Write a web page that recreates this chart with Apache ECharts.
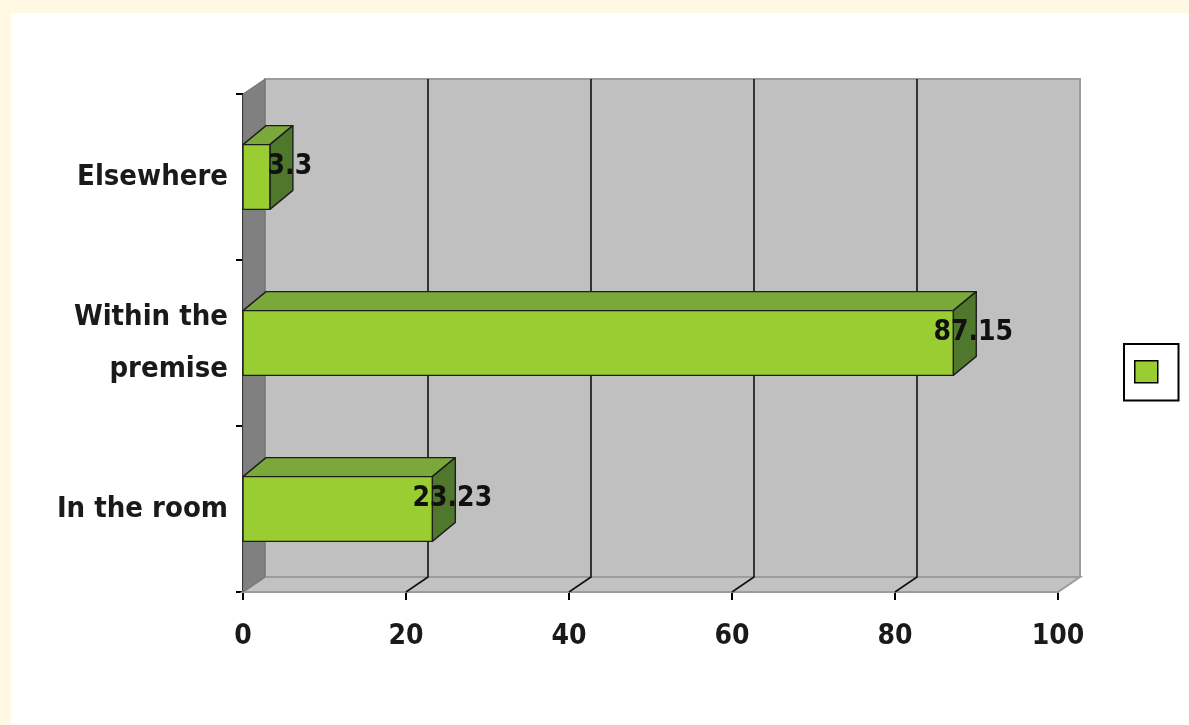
<!DOCTYPE html>
<html>
<head>
<meta charset="utf-8">
<script src="https://cdn.jsdelivr.net/npm/echarts@6/dist/echarts.min.js"></script>
<style>
  html, body { margin: 0; padding: 0; background: #FFF9E3; }
  #chart { width: 1189px; height: 725px; }
</style>
</head>
<body>
<div id="chart"></div>
<script>
// Location categories (bottom to top) and their percentages
const categories = ['In the room', 'Within the premise', 'Elsewhere'];
const values = [23.23, 87.15, 3.3];
const xTicks = [0, 20, 40, 60, 80, 100];

const FONT = "'Liberation Sans Narrow', 'Arial Narrow', 'DejaVu Sans Condensed', 'Liberation Sans', sans-serif";

// Oblique depth offsets for the walls and for the bar boxes
const WALL_DX = 22, WALL_DY = -15;
const BAR_DX = 23, BAR_DY = -19;

function renderWalls(params, api) {
  const cs = params.coordSys;
  const x0 = cs.x, x1 = cs.x + cs.width, yT = cs.y, yB = cs.y + cs.height;
  const children = [];
  // back wall
  children.push({
    type: 'rect',
    shape: { x: x0 + WALL_DX, y: yT + WALL_DY, width: cs.width, height: cs.height },
    style: { fill: '#C0C0C0', stroke: '#9C9C9C', lineWidth: 2 }
  });
  // floor
  children.push({
    type: 'polygon',
    shape: { points: [[x0, yB], [x1, yB], [x1 + WALL_DX, yB + WALL_DY], [x0 + WALL_DX, yB + WALL_DY]] },
    style: { fill: '#C2C2C2', stroke: '#9C9C9C', lineWidth: 2 }
  });
  // left wall
  children.push({
    type: 'polygon',
    shape: { points: [[x0, yT], [x0 + WALL_DX, yT + WALL_DY], [x0 + WALL_DX, yB + WALL_DY], [x0, yB]] },
    style: { fill: '#808080', stroke: '#707070', lineWidth: 1 }
  });
  // grid lines on floor and back wall
  xTicks.forEach(function (v, i) {
    if (i === 0 || i === xTicks.length - 1) return;
    const px = api.coord([v, 0])[0];
    children.push({
      type: 'polyline',
      shape: { points: [[px, yB], [px + WALL_DX, yB + WALL_DY], [px + WALL_DX, yT + WALL_DY]] },
      style: { stroke: '#111', lineWidth: 1.6, fill: null }
    });
  });
  return { type: 'group', children: children };
}

function renderBar(params, api) {
  const v = api.value(0), ci = api.value(1);
  const start = api.coord([0, ci]);
  const xs = start[0], yc = start[1];
  const xe = api.coord([v, ci])[0];
  const h = api.size([0, 1])[1] * 0.39;
  const yt = yc - h / 2, yb = yc + h / 2;
  const edge = { stroke: '#1E1E1E', lineWidth: 1.4, lineJoin: 'round' };
  return {
    type: 'group',
    children: [
      { type: 'polygon',
        shape: { points: [[xs, yt], [xe, yt], [xe + BAR_DX, yt + BAR_DY], [xs + BAR_DX, yt + BAR_DY]] },
        style: Object.assign({ fill: '#7BA83A' }, edge) },
      { type: 'polygon',
        shape: { points: [[xe, yt], [xe + BAR_DX, yt + BAR_DY], [xe + BAR_DX, yb + BAR_DY], [xe, yb]] },
        style: Object.assign({ fill: '#50782C' }, edge) },
      { type: 'rect',
        shape: { x: xs, y: yt, width: xe - xs, height: h },
        style: Object.assign({ fill: '#9ACD32' }, edge) },
      { type: 'text',
        x: xe + 20, y: yc - 10.5,
        style: {
          text: String(v), fill: '#111',
          fontSize: 28, fontWeight: 'bold', fontFamily: FONT,
          align: 'center', verticalAlign: 'middle'
        } }
    ]
  };
}

const chart = echarts.init(document.getElementById('chart'), null, { renderer: 'canvas' });

chart.setOption({
  backgroundColor: '#FFF9E3',
  animation: false,
  graphic: [{
    type: 'rect', z: -10,
    shape: { x: 11, y: 13, width: 1178, height: 712 },
    style: { fill: '#FFFFFF' }
  }],
  grid: { left: 243, right: 131, top: 94, bottom: 133 },
  legend: {
    left: 1124, top: 344,
    data: ['share'],
    formatter: function () { return ''; },
    itemWidth: 23, itemHeight: 22, itemGap: 0,
    padding: [16, 20, 17, 10],
    borderColor: '#000', borderWidth: 2,
    backgroundColor: '#fff',
    icon: 'rect',
    itemStyle: { color: '#9ACD32', borderColor: '#000', borderWidth: 1.5 }
  },
  xAxis: {
    type: 'value', min: 0, max: 100, interval: 20,
    axisLine: { show: true, lineStyle: { color: '#000', width: 2 } },
    axisTick: { show: true, length: 8, lineStyle: { color: '#000', width: 2 } },
    splitLine: { show: false },
    axisLabel: {
      color: '#1a1a1a', fontSize: 28, fontWeight: 'bold', fontFamily: FONT, margin: 31
    }
  },
  yAxis: {
    type: 'category', data: categories,
    axisLine: { show: true, lineStyle: { color: '#000', width: 2 } },
    axisTick: { show: true, length: 7, lineStyle: { color: '#000', width: 2 } },
    axisLabel: {
      color: '#1a1a1a', fontSize: 29, fontWeight: 'bold', fontFamily: FONT, margin: 15,
      lineHeight: 52,
      formatter: function (v) { return v.replace('the premise', 'the\npremise'); }
    }
  },
  series: [
    {
      type: 'custom', name: 'walls', silent: true, z: 1,
      renderItem: renderWalls,
      encode: { x: 0, y: 1 },
      data: [[0, 0]]
    },
    {
      type: 'custom', name: 'share', z: 3,
      renderItem: renderBar,
      itemStyle: { color: '#9ACD32' },
      encode: { x: 0, y: 1 },
      data: values.map(function (v, i) { return [v, i]; })
    }
  ]
});
</script>
</body>
</html>
